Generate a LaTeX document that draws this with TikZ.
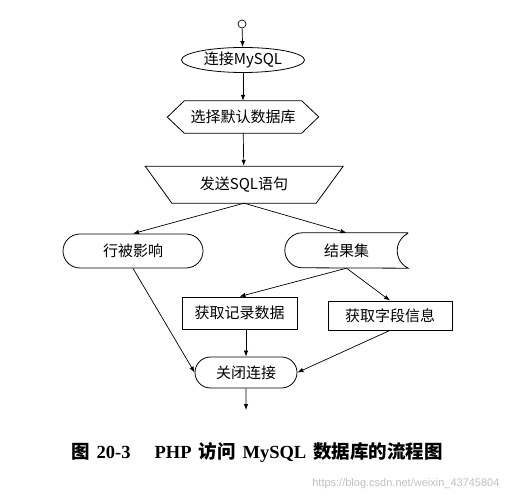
\documentclass[tikz,border=0pt]{standalone}
\usepackage{fontspec}
\newfontfamily\cjk{Noto Sans CJK SC}
\newfontfamily\capfont{Liberation Serif}
\newfontfamily\wmfont{Liberation Sans}
\usetikzlibrary{shapes.geometric,shapes.misc,arrows.meta}

\tikzset{
  flow/.style={font=\cjk\fontsize{15}{18}\selectfont, inner sep=0pt},
  proc/.style={flow, draw, line width=0.8pt},
  term/.style={proc, rounded rectangle},
  arr/.style={-{Latex[length=6pt,width=4.5pt]}, line width=0.7pt},
}

\begin{document}
\begin{tikzpicture}[x=1pt, y=1pt]
            \useasboundingbox (0,0) rectangle (510,500);

            % Start point
            \node[draw, circle, line width=0.7pt, minimum size=8pt, inner sep=0pt] (start) at (242,476) {};

            % Connect to the server (ellipse)
            \node[proc, ellipse, minimum width=123pt, minimum height=25pt] (conn) at (243,440) {连接MySQL};

            % Select the database (hexagon)
            \node[flow, minimum width=117pt, minimum height=32pt] (sel) at (243,383) {选择默认数据库};
            \draw[line width=0.8pt] (sel.north west) -- (sel.north east) -- ++(17,-16) -- (sel.south east)
                -- (sel.south west) -- ++(-17,16) -- cycle;

            % Send the query (wide top)
            \node[flow, minimum width=144pt, minimum height=37pt] (snd) at (244,315.5) {发送SQL语句};
            \draw[line width=0.8pt] (snd.south west) -- (snd.south east) -- ++(27,37) -- ++(-198,0) -- cycle;

            % Two outcomes
            \node[term, minimum width=140pt, minimum height=34pt] (act) at (133,249) {行被影响};
            \node[flow, minimum width=123pt, minimum height=35pt] (res) at (346.5,249.5) {结果集};
            \draw[line width=0.8pt] (res.north east) -- ([xshift=17.5pt]res.north west)
                arc[start angle=90, end angle=270, radius=17.5pt] -- (res.south east)
                arc[start angle=244.4, end angle=115.6, radius=19.4pt];

            % Read the result set
            \node[proc, minimum width=115pt, minimum height=32pt] (rec) at (239.5,187) {获取记录数据};
            \node[proc, minimum width=124pt, minimum height=29pt] (fld) at (390,184.5) {获取字段信息};

            % Close the connection
            \node[term, minimum width=102pt, minimum height=31pt] (close) at (246,127.5) {关闭连接};
            \coordinate (end) at (246,90);

            % Arrows
            \draw[arr] (start) -- (conn);
            \draw[arr] (conn) -- (sel);
            \draw[arr] (sel) -- (snd);
            \draw[arr] (snd.south) -- (act.north);
            \draw[arr] (snd.south) -- (res.north);
            \draw[arr] (res.south) -- (rec.north);
            \draw[arr] (res.south) -- (fld.north);
            \draw[arr] (act.south) -- (close.west);
            \draw[arr] (rec.south -| close) -- (close.north);
            \draw[arr] (fld.south) -- (close.east);
            \draw[arr] (close) -- (end);

            % Caption
            \node[font=\fontsize{18.5}{22}\selectfont\bfseries] (cap) at (257,48)
                {{\cjk 图} {\capfont 20-3}\hspace{1.3em}{\capfont PHP} {\cjk 访问} {\capfont MySQL} {\cjk 数据库的流程图}};

            % Watermark
            \node[anchor=east, text=black!25, font=\wmfont\fontsize{11}{13}\selectfont] (wm) at (503,16)
                {https://blog.csdn.net/weixin\_43745804};
\end{tikzpicture}
\end{document}
